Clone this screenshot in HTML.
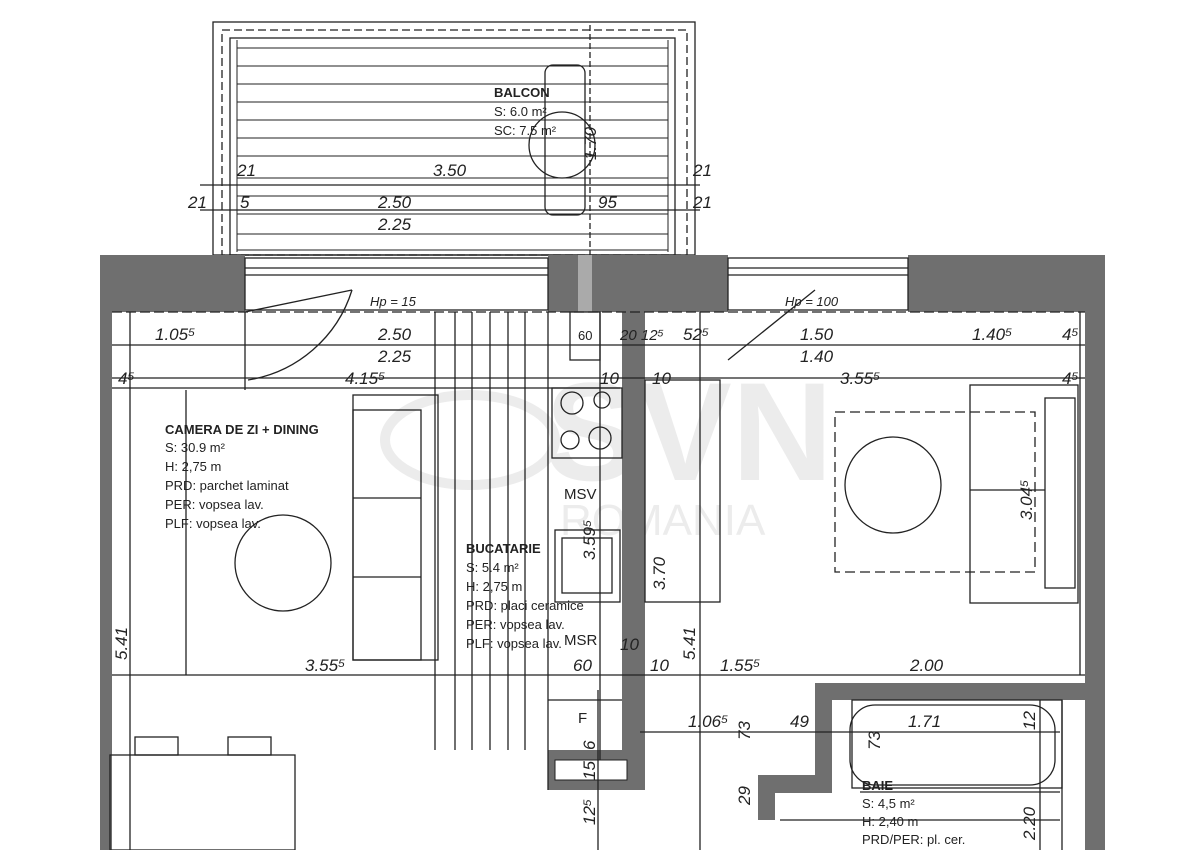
<!DOCTYPE html>
<html><head><meta charset="utf-8"><style>
html,body{margin:0;padding:0;background:#fff;width:1200px;height:850px;overflow:hidden}
svg text{font-family:"Liberation Sans",sans-serif;fill:#222}
.d{font-style:italic;font-size:17px}
.l{font-size:13px}
.b{font-size:13px;font-weight:bold}
</style></head><body>
<svg width="1200" height="850" viewBox="0 0 1200 850" xmlns="http://www.w3.org/2000/svg">
<!-- watermark -->
<text x="545" y="480" style="font-size:140px;fill:#ececec;font-weight:bold">SVN</text>
<text x="560" y="535" style="font-size:44px;fill:#ececec">ROMANIA</text>
<ellipse cx="470" cy="440" rx="85" ry="45" fill="none" stroke="#ececec" stroke-width="10"/>
<g stroke="#222" fill="none" stroke-width="1.3">
<!-- balcony -->
<rect x="213" y="22" width="482" height="233"/>
<rect x="222" y="30" width="465" height="225" stroke-dasharray="8 4"/>
<rect x="230" y="38" width="445" height="217"/>
<g stroke-width="1">
<line x1="237" y1="48" x2="668" y2="48"/><line x1="237" y1="66" x2="668" y2="66"/>
<line x1="237" y1="84" x2="668" y2="84"/><line x1="237" y1="102" x2="668" y2="102"/>
<line x1="237" y1="120" x2="668" y2="120"/><line x1="237" y1="138" x2="668" y2="138"/>
<line x1="237" y1="156" x2="668" y2="156"/><line x1="237" y1="178" x2="668" y2="178"/>
<line x1="237" y1="196" x2="668" y2="196"/><line x1="237" y1="214" x2="668" y2="214"/>
<line x1="237" y1="234" x2="668" y2="234"/><line x1="237" y1="250" x2="668" y2="250"/>
<line x1="237" y1="40" x2="237" y2="252"/><line x1="668" y1="40" x2="668" y2="252"/>
</g>
<line x1="200" y1="185" x2="700" y2="185"/><line x1="200" y1="210" x2="700" y2="210"/>
<circle cx="562" cy="145" r="33"/><rect x="545" y="65" width="40" height="150" rx="8"/>
<line x1="590" y1="25" x2="590" y2="310" stroke-dasharray="6 3"/>
</g>
<!-- walls -->
<g fill="#6f6f6f">
<rect x="100" y="255" width="145" height="57"/>
<rect x="548" y="255" width="180" height="57"/>
<rect x="908" y="255" width="197" height="57"/>
<rect x="100" y="255" width="12" height="595"/>
<rect x="1085" y="255" width="20" height="595"/>
<rect x="622" y="312" width="23" height="478"/>
<rect x="548" y="750" width="97" height="40"/>
<rect x="815" y="683" width="270" height="17"/>
<rect x="815" y="683" width="17" height="110"/>
<rect x="758" y="775" width="74" height="18"/>
<rect x="758" y="775" width="17" height="45"/>
</g>
<rect x="555" y="760" width="72" height="20" fill="#fff" stroke="#222"/>
<rect x="578" y="255" width="14" height="57" fill="#aaa"/>
<g stroke="#222" fill="none" stroke-width="1.3">
<rect x="245" y="258" width="303" height="52"/><line x1="245" y1="268" x2="548" y2="268"/><line x1="245" y1="275" x2="548" y2="275"/>
<rect x="728" y="258" width="180" height="52"/><line x1="728" y1="268" x2="908" y2="268"/><line x1="728" y1="275" x2="908" y2="275"/>
<line x1="112" y1="312" x2="1085" y2="312" stroke-dasharray="10 4"/>
<line x1="112" y1="345" x2="1085" y2="345"/><line x1="112" y1="378" x2="1085" y2="378"/>
<line x1="112" y1="388" x2="620" y2="388"/>
<line x1="112" y1="675" x2="1085" y2="675"/><line x1="640" y1="732" x2="1060" y2="732"/>
<line x1="130" y1="312" x2="130" y2="850"/><line x1="245" y1="312" x2="245" y2="390"/>
<line x1="186" y1="390" x2="186" y2="675"/><line x1="700" y1="312" x2="700" y2="850"/>
<line x1="1080" y1="312" x2="1080" y2="675"/>
<path d="M248 380 A130 130 0 0 0 352 290"/><line x1="245" y1="312" x2="352" y2="290"/>
<line x1="728" y1="360" x2="815" y2="290"/>
<line x1="435" y1="312" x2="435" y2="750"/><line x1="455" y1="312" x2="455" y2="750"/>
<line x1="472" y1="312" x2="472" y2="750"/><line x1="490" y1="312" x2="490" y2="750"/>
<line x1="508" y1="312" x2="508" y2="750"/><line x1="525" y1="312" x2="525" y2="750"/>
<line x1="548" y1="312" x2="548" y2="790"/><line x1="600" y1="312" x2="600" y2="760"/>
<rect x="570" y="312" width="30" height="48"/>
<rect x="552" y="388" width="70" height="70"/>
<circle cx="572" cy="403" r="11"/><circle cx="602" cy="400" r="8"/><circle cx="570" cy="440" r="9"/><circle cx="600" cy="438" r="11"/>
<rect x="555" y="530" width="65" height="72"/><rect x="562" y="538" width="50" height="55"/>
<line x1="548" y1="700" x2="622" y2="700"/>
<rect x="353" y="395" width="85" height="265"/><rect x="353" y="410" width="68" height="250"/>
<line x1="353" y1="577" x2="421" y2="577"/><line x1="353" y1="498" x2="421" y2="498"/>
<circle cx="283" cy="563" r="48"/>
<rect x="645" y="380" width="75" height="222"/>
<rect x="835" y="412" width="200" height="160" stroke-dasharray="10 5"/>
<circle cx="893" cy="485" r="48"/>
<rect x="970" y="385" width="108" height="218"/><rect x="1045" y="398" width="30" height="190"/>
<line x1="970" y1="490" x2="1045" y2="490"/>
<rect x="110" y="755" width="185" height="95"/>
<rect x="135" y="737" width="43" height="18"/><rect x="228" y="737" width="43" height="18"/>
<rect x="850" y="705" width="205" height="80" rx="25"/>
<rect x="852" y="700" width="210" height="88"/>
<line x1="860" y1="792" x2="1060" y2="792"/><line x1="780" y1="820" x2="1060" y2="820"/>
<line x1="1040" y1="700" x2="1040" y2="850"/><line x1="1062" y1="700" x2="1062" y2="850"/>
<line x1="598" y1="690" x2="598" y2="850"/>
</g>
<text x="494" y="97" class="b">BALCON</text>
<text x="494" y="116" class="l">S: 6.0 m²</text>
<text x="494" y="135" class="l">SC: 7.5 m²</text>
<text x="237" y="176" class="d">21</text><text x="433" y="176" class="d">3.50</text><text x="693" y="176" class="d">21</text>
<text x="188" y="208" class="d">21</text><text x="240" y="208" class="d">5</text><text x="378" y="208" class="d">2.50</text><text x="598" y="208" class="d">95</text><text x="693" y="208" class="d">21</text>
<text x="378" y="230" class="d">2.25</text>
<text x="370" y="306" class="d" style="font-size:13px">Hp = 15</text>
<text x="785" y="306" class="d" style="font-size:13px">Hp = 100</text>
<text x="155" y="340" class="d">1.05⁵</text><text x="378" y="340" class="d">2.50</text>
<text x="378" y="362" class="d">2.25</text><text x="620" y="340" class="d" style="font-size:15px">20 12⁵</text>
<text x="683" y="340" class="d">52⁵</text><text x="800" y="340" class="d">1.50</text><text x="972" y="340" class="d">1.40⁵</text><text x="1062" y="340" class="d">4⁵</text>
<text x="800" y="362" class="d">1.40</text>
<text x="118" y="384" class="d">4⁵</text><text x="345" y="384" class="d">4.15⁵</text><text x="600" y="384" class="d">10</text><text x="652" y="384" class="d">10</text><text x="840" y="384" class="d">3.55⁵</text><text x="1062" y="384" class="d">4⁵</text>
<text x="578" y="340" class="l">60</text>
<text x="165" y="434" class="b">CAMERA DE ZI + DINING</text>
<text x="165" y="452" class="l">S: 30.9 m²</text><text x="165" y="471" class="l">H: 2,75 m</text>
<text x="165" y="490" class="l">PRD: parchet laminat</text><text x="165" y="509" class="l">PER: vopsea lav.</text><text x="165" y="528" class="l">PLF: vopsea lav.</text>
<text x="564" y="499" style="font-size:15px">MSV</text>
<text x="466" y="553" class="b">BUCATARIE</text>
<text x="466" y="572" class="l">S: 5.4 m²</text><text x="466" y="591" class="l">H: 2,75 m</text>
<text x="466" y="610" class="l">PRD: placi ceramice</text><text x="466" y="629" class="l">PER: vopsea lav.</text><text x="466" y="648" class="l">PLF: vopsea lav.</text>
<text x="564" y="645" style="font-size:15px">MSR</text><text x="620" y="650" class="d">10</text>
<text x="305" y="671" class="d">3.55⁵</text><text x="573" y="671" class="d">60</text><text x="650" y="671" class="d">10</text><text x="720" y="671" class="d">1.55⁵</text><text x="910" y="671" class="d">2.00</text>
<text x="578" y="723" style="font-size:15px">F</text>
<text x="688" y="727" class="d">1.06⁵</text><text x="790" y="727" class="d">49</text><text x="908" y="727" class="d">1.71</text>
<text x="862" y="790" class="b">BAIE</text>
<text x="862" y="808" class="l">S: 4,5 m²</text><text x="862" y="826" class="l">H: 2,40 m</text><text x="862" y="844" class="l">PRD/PER: pl. cer.</text>
<g>
<text transform="translate(127,660) rotate(-90)" class="d">5.41</text>
<text transform="translate(695,660) rotate(-90)" class="d">5.41</text>
<text transform="translate(665,590) rotate(-90)" class="d">3.70</text>
<text transform="translate(1032,520) rotate(-90)" class="d">3.04⁵</text>
<text transform="translate(596,160) rotate(-90)" class="d">1.70</text>
<text transform="translate(595,560) rotate(-90)" class="d">3.59⁵</text>
<text transform="translate(595,750) rotate(-90)" class="d">6</text>
<text transform="translate(595,780) rotate(-90)" class="d">15</text>
<text transform="translate(595,825) rotate(-90)" class="d">12⁵</text>
<text transform="translate(750,740) rotate(-90)" class="d">73</text>
<text transform="translate(750,805) rotate(-90)" class="d">29</text>
<text transform="translate(880,750) rotate(-90)" class="d">73</text>
<text transform="translate(1035,730) rotate(-90)" class="d">12</text>
<text transform="translate(1035,840) rotate(-90)" class="d">2.20</text>
</g>
</svg>
</body></html>
